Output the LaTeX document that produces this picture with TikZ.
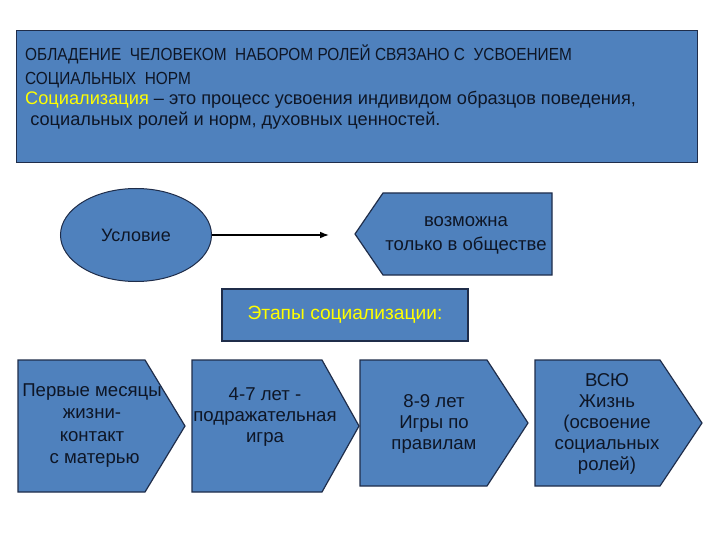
\documentclass[tikz,border=0pt]{standalone}
\usepackage{fontspec}
\setmainfont{Liberation Sans}
\newfontfamily\narrowfont[FakeStretch=0.88]{Liberation Sans}
\usepackage{xcolor}
\usepackage{tikz}
\usetikzlibrary{arrows.meta,positioning,shapes.geometric}
\definecolor{SlideBlue}{HTML}{4F81BD}
\definecolor{SlideEdge}{HTML}{1F2D4A}
\definecolor{SlideInk}{HTML}{0E1626}
\definecolor{SlideYellow}{HTML}{FFFF00}

\begin{document}
\begin{tikzpicture}[x=1pt,y=-1pt,>=Latex,
  every node/.style={text=SlideInk},
  slidebox/.style={draw=SlideEdge,fill=SlideBlue,line width=1.2pt},
  stagetext/.style={align=center,inner sep=0pt,font=\fontsize{18.6}{21}\selectfont}]
  \useasboundingbox[fill=white] (0,0) rectangle (720,540);

  % statement on top
  \node[slidebox,anchor=north west,minimum width=681pt,minimum height=132pt] (norms) at (16,30) {};
  \node[anchor=north west,align=left,inner sep=0pt,
        font=\narrowfont\fontsize{17.5}{24}\selectfont] (normscaps) at (25,44)
        {ОБЛАДЕНИЕ\ \ ЧЕЛОВЕКОМ\ \ НАБОРОМ РОЛЕЙ СВЯЗАНО С\ \ УСВОЕНИЕМ\\
         СОЦИАЛЬНЫХ\ \ НОРМ};
  \node[anchor=north west,align=left,inner sep=0pt,
        font=\fontsize{18.2}{21}\selectfont] (normsdef) at ([yshift=-3pt]normscaps.south west)
        {\textcolor{SlideYellow}{Социализация} – это процесс усвоения индивидом образцов поведения,\\
         \ социальных ролей и норм, духовных ценностей.};

  % condition
  \node[slidebox,ellipse,line width=1pt,minimum width=151pt,minimum height=93pt,
        font=\fontsize{18}{21}\selectfont] (cond) at (136,235) {Условие};
  \filldraw[slidebox] (355,234) -- (383,193) -- (552,193) -- (552,275) -- (383,275) -- cycle;
  \node[stagetext,font=\fontsize{18.5}{24}\selectfont] (society) at (466,235)
        {возможна\\только в обществе};
  \coordinate (condend) at (329,235);
  \draw[->,line width=1.3pt] (cond) -- (condend);

  % stages
  \node[slidebox,minimum width=246pt,minimum height=52pt,text=SlideYellow,
        font=\fontsize{19.2}{22}\selectfont] (stages) at (345,315) {Этапы социализации:};

  \filldraw[slidebox] (18,360) -- (145,360) -- (185,426) -- (145,492) -- (18,492) -- cycle;
  \filldraw[slidebox] (192,360) -- (322,360) -- (359,426) -- (322,492) -- (192,492) -- cycle;
  \filldraw[slidebox] (360,360) -- (487,360) -- (528,423) -- (487,486) -- (360,486) -- cycle;
  \filldraw[slidebox] (535,360) -- (660,360) -- (702,423) -- (660,486) -- (535,486) -- cycle;

  \node[stagetext,font=\fontsize{18.6}{22.3}\selectfont] (infancy) at (92,425.5)
        {Первые месяцы\\жизни-\\контакт\\\ с матерью};
  \node[stagetext] (imitation) at (265,417) {4-7 лет -\\подражательная\\игра};
  \node[stagetext] (rules) at (434,424) {8-9 лет\\Игры по\\правилам};
  \node[stagetext] (lifelong) at (607,423.5) {ВСЮ\\Жизнь\\(освоение\\социальных\\ролей)};
\end{tikzpicture}
\end{document}
